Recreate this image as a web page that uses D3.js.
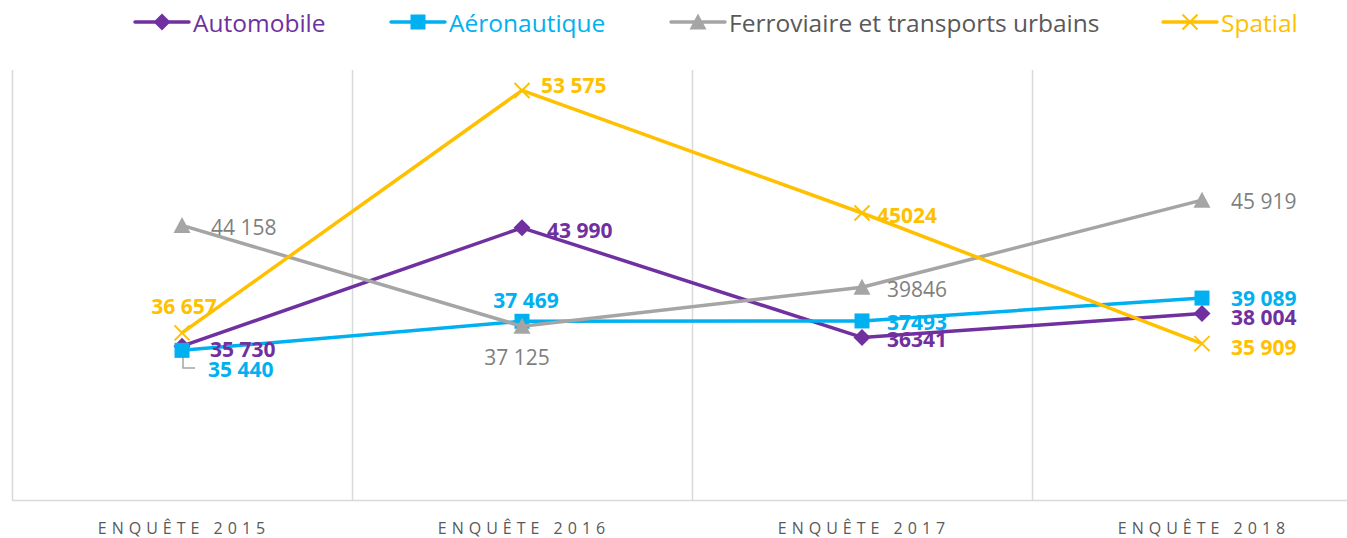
<!DOCTYPE html>
<html>
<head>
<meta charset="utf-8">
<script src="https://cdn.jsdelivr.net/npm/d3@7"></script>
<style>
  body { margin: 0; background: #fff; }
  svg { display: block; font-family: "Open Sans", Lato, sans-serif; }
</style>
</head>
<body>
<svg id="chart" width="1347" height="538"></svg>
<script>
// ---- data ----
var categories = ["ENQUÊTE 2015", "ENQUÊTE 2016", "ENQUÊTE 2017", "ENQUÊTE 2018"];
var seriesNames = ["Automobile", "Aéronautique", "Ferroviaire et transports urbains", "Spatial"];
var automobile = [35730, 43990, 36341, 38004];
var aeronautique = [35440, 37469, 37493, 39089];
var ferroviaire = [44158, 37125, 39846, 45919];
var spatial = [36657, 53575, 45024, 35909];
// data labels as printed in the chart
var automobileLabels = ["35 730", "43 990", "36341", "38 004"];
var aeronautiqueLabels = ["35 440", "37 469", "37493", "39 089"];
var ferroviaireLabels = ["44 158", "37 125", "39846", "45 919"];
var spatialLabels = ["36 657", "53 575", "45024", "35 909"];
var yDomain = [25000, 55000];

// ---- layout / style ----
var colors = ["#7030A0", "#00B0F0", "#A5A5A5", "#FFC000"];
var labelColors = ["#7030A0", "#00B0F0", "#7F7F7F", "#FFC000"];
var labelWeights = ["bold", "bold", "normal", "bold"];
var symbols = ["diamond", "square", "triangle", "x"];
// label offsets from the point: [dx, dy, anchor]
var labelOffsets = [
    [[28, 3, "start"], [25, 2, "start"], [25, 2, "start"], [29, 3, "start"]],
    [[26, 19, "start"], [4, -21, "middle"], [25, 1, "start"], [29, 0, "start"]],
    [[29, 2, "start"], [-5, 31, "middle"], [25, 2, "start"], [29, 1, "start"]],
    [[2, -27, "middle"], [19, -5, "start"], [15, 2, "start"], [29, 3, "start"]]
];
var legendX = [135, 391, 671, 1163];
var legendLineLen = 54;

var series = [automobile, aeronautique, ferroviaire, spatial];
var seriesLabels = [automobileLabels, aeronautiqueLabels, ferroviaireLabels, spatialLabels];

var svg = d3.select("#chart");
var plot = {left: 12, right: 1372, top: 70, bottom: 500};

var x = d3.scaleBand().domain(categories).range([plot.left, plot.right]).padding(0);
var y = d3.scaleLinear().domain(yDomain).range([plot.bottom, plot.top]);
function cx(c) { return x(c) + x.bandwidth() / 2; }

// frame and vertical grid lines between categories
var grid = svg.append("g");
grid.selectAll("line.v")
    .data(categories)
    .enter().append("line")
    .attr("x1", function(c) { return Math.round(x(c)) + 0.5; })
    .attr("x2", function(c) { return Math.round(x(c)) + 0.5; })
    .attr("y1", plot.top)
    .attr("y2", plot.bottom)
    .attr("stroke", "#D9D9D9")
    .attr("stroke-width", 1.5);
grid.append("line")
    .attr("x1", plot.left).attr("x2", plot.right)
    .attr("y1", plot.bottom + 0.5).attr("y2", plot.bottom + 0.5)
    .attr("stroke", "#D9D9D9")
    .attr("stroke-width", 1.5);

// category axis
var xAxis = d3.axisBottom(x).tickSize(0).tickPadding(0);
var axisG = svg.append("g")
    .attr("transform", "translate(0," + plot.bottom + ")")
    .call(xAxis);
axisG.select(".domain").remove();
axisG.selectAll("text")
    .attr("y", 34)
    .attr("dy", 0)
    .attr("dx", 2)
    .attr("fill", "#595959")
    .style("font-size", "16px")
    .style("letter-spacing", "5px")
    .style("font-family", "'Open Sans', sans-serif");

function drawMarker(g, sym, color, px, py, size) {
    var h = size / 2;
    if (sym === "x") {
        g.append("path")
            .attr("d", "M" + (px - h) + "," + (py - h) + "L" + (px + h) + "," + (py + h) +
                       "M" + (px - h) + "," + (py + h) + "L" + (px + h) + "," + (py - h))
            .attr("stroke", color)
            .attr("stroke-width", 2)
            .attr("fill", "none");
        return;
    }
    var d;
    if (sym === "diamond") {
        h += 1;
        d = "M" + px + "," + (py - h) + "L" + (px + h) + "," + py +
            "L" + px + "," + (py + h) + "L" + (px - h) + "," + py + "Z";
    } else if (sym === "square") {
        d = "M" + (px - h) + "," + (py - h) + "h" + size + "v" + size + "h" + (-size) + "Z";
    } else {
        d = "M" + px + "," + (py - h - 1) + "L" + (px + h + 1) + "," + (py + h) +
            "L" + (px - h - 1) + "," + (py + h) + "Z";
    }
    g.append("path").attr("d", d).attr("fill", color);
}

// leader line for the 2015 Aéronautique label
svg.append("path")
    .attr("d", "M183,357V368H195")
    .attr("fill", "none")
    .attr("stroke", "#A5A5A5")
    .attr("stroke-width", 1.5);

// lines + markers
var line = d3.line()
    .x(function(d, i) { return cx(categories[i]); })
    .y(function(d) { return y(d); });

series.forEach(function(values, s) {
    var g = svg.append("g");
    g.append("path")
        .datum(values)
        .attr("d", line)
        .attr("fill", "none")
        .attr("stroke", colors[s])
        .attr("stroke-width", 3.5)
        .attr("stroke-linejoin", "round");
    values.forEach(function(v, i) {
        drawMarker(g, symbols[s], colors[s], cx(categories[i]), y(v), 15);
    });
});

// data labels
series.forEach(function(values, s) {
    values.forEach(function(v, i) {
        var off = labelOffsets[s][i];
        svg.append("text")
            .attr("x", cx(categories[i]) + off[0])
            .attr("y", y(v) + off[1])
            .attr("dominant-baseline", "central")
            .attr("text-anchor", off[2])
            .attr("fill", labelColors[s])
            .attr("font-weight", labelWeights[s])
            .style("font-size", "21px")
            .text(seriesLabels[s][i]);
    });
});

// legend
var legend = svg.append("g");
seriesNames.forEach(function(name, s) {
    var lx = legendX[s], ly = 22, len = legendLineLen;
    legend.append("line")
        .attr("x1", lx).attr("x2", lx + len)
        .attr("y1", ly).attr("y2", ly)
        .attr("stroke", colors[s])
        .attr("stroke-width", 3.5)
        .attr("stroke-linecap", "round");
    drawMarker(legend, symbols[s], colors[s], lx + len / 2, ly, 15);
    legend.append("text")
        .attr("x", lx + len + 4)
        .attr("y", ly)
        .attr("dominant-baseline", "central")
        .attr("fill", s === 2 ? "#595959" : colors[s])
        .style("font-size", "24.5px")
        .text(name);
});
</script>
</body>
</html>
